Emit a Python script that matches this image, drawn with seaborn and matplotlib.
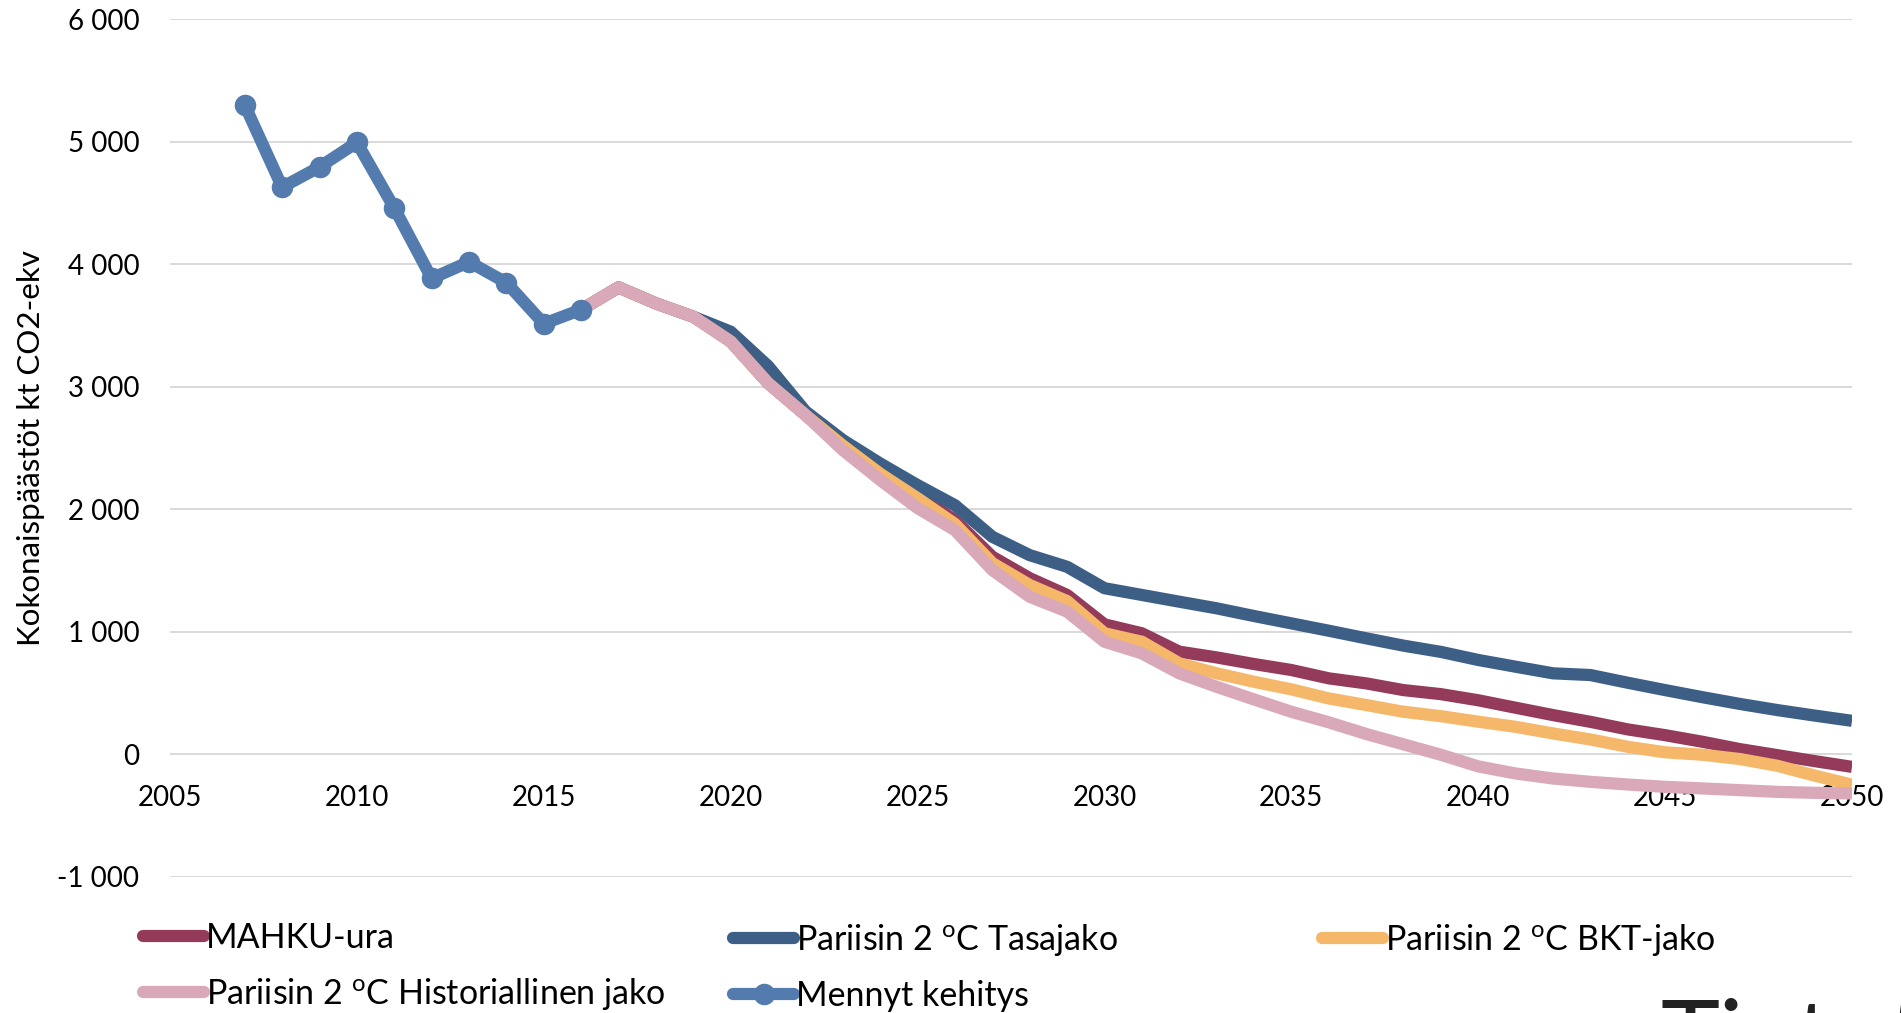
import matplotlib
matplotlib.use("Agg")
import matplotlib.pyplot as plt
from matplotlib.lines import Line2D
from matplotlib.ticker import FuncFormatter, MultipleLocator
import seaborn as sns
import pandas as pd

# ---- data (kt CO2-ekv) ----
years_hist = list(range(2007, 2017))
mennyt_kehitys = [5300, 4630, 4795, 4995, 4460, 3885, 4020, 3850, 3515, 3630]

years_scen = list(range(2016, 2051))
mahku_ura = [3630, 3812, 3681, 3572, 3370, 3030, 2770, 2520, 2300, 2115,
             1910, 1612, 1437, 1300, 1060, 987, 837, 790, 736, 687,
             619, 578, 523, 490, 440, 379, 319, 264, 202, 155,
             101, 41, -8, -57, -104]
tasajako = [3630, 3812, 3681, 3572, 3450, 3170, 2800, 2565, 2374, 2197,
            2033, 1775, 1625, 1530, 1355, 1300, 1245, 1191, 1128, 1068,
            1008, 946, 886, 835, 769, 714, 660, 646, 583, 523,
            465, 410, 360, 315, 272]
bkt_jako = [3630, 3812, 3681, 3572, 3370, 3030, 2770, 2520, 2290, 2090,
            1880, 1560, 1381, 1250, 987, 918, 742, 660, 591, 529,
            455, 401, 346, 310, 265, 223, 169, 120, 60, 15,
            -5, -40, -95, -175, -250]
historiallinen = [3630, 3812, 3681, 3572, 3370, 3030, 2770, 2483, 2238, 2009,
                  1829, 1503, 1285, 1164, 918, 823, 660, 550, 447, 346,
                  260, 165, 80, -5, -100, -158, -199, -226, -248, -267,
                  -280, -294, -308, -316, -321]

sup = r"$^{\mathrm{o}}$"
labels = {
    "mahku": "MAHKU-ura",
    "tasa": f"Pariisin 2 {sup}C Tasajako",
    "bkt": f"Pariisin 2 {sup}C BKT-jako",
    "hist": f"Pariisin 2 {sup}C Historiallinen jako",
    "past": "Mennyt kehitys",
}
colors = {
    "mahku": "#943B5B",
    "tasa": "#3D5F86",
    "bkt": "#F5B76A",
    "hist": "#D9A8B9",
    "past": "#537BAD",
}

x_ticks = list(range(2005, 2051, 5))

# ---- style ----
sns.set_theme(style="white")
plt.rcParams["font.family"] = ["Lato", "DejaVu Sans"]
plt.rcParams["mathtext.fontset"] = "custom"
plt.rcParams["mathtext.rm"] = "Lato"
plt.rcParams["mathtext.it"] = "Lato:italic"

W, H = 1901, 1013
fig = plt.figure(figsize=(W / 100, H / 100), dpi=100)
ax = fig.add_axes([170 / W, 1 - 876.6 / H, (1852 - 170) / W, (876.6 - 19.4) / H])

LW = 8.8
scen = pd.DataFrame({"year": years_scen, "mahku": mahku_ura, "tasa": tasajako,
                     "bkt": bkt_jako, "hist": historiallinen})
past = pd.DataFrame({"year": years_hist, "value": mennyt_kehitys})

line_kw = dict(linewidth=LW, solid_joinstyle="round", solid_capstyle="butt")
for key in ["mahku", "tasa", "bkt", "hist"]:
    sns.lineplot(data=scen, x="year", y=key, ax=ax, color=colors[key],
                 label=labels[key], legend=False, zorder=3, **line_kw)
sns.lineplot(data=past, x="year", y="value", ax=ax, color=colors["past"],
             marker="o", markersize=15.5, markeredgewidth=0,
             label=labels["past"], legend=False, zorder=4, **line_kw)

# ---- axes ----
ax.set_xlim(2005, 2050)
ax.set_ylim(-1000, 6000)
ax.set_xticks(x_ticks)
ax.yaxis.set_major_locator(MultipleLocator(1000))
ax.yaxis.set_major_formatter(FuncFormatter(lambda v, p: f"{v:,.0f}".replace(",", " ")))
ax.grid(axis="y", color="#D9D9D9", linewidth=1.4, zorder=0)
ax.grid(axis="x", visible=False)
for s in ["top", "right", "left"]:
    ax.spines[s].set_visible(False)
ax.spines["bottom"].set_position(("data", 0))
ax.spines["bottom"].set_visible(False)
ax.tick_params(axis="x", length=0, pad=22, labelsize=20, colors="black")
ax.tick_params(axis="y", length=0, pad=22, labelsize=20, colors="black")
ax.set_xlabel("")
ax.set_ylabel("Kokonaispäästöt kt CO2-ekv", fontsize=22.5, color="black")
ax.yaxis.set_label_coords(-0.0743, 0.5)

# ---- legend (three columns) ----
def handle(key, marker=None):
    return Line2D([0], [0], color=colors[key], linewidth=LW, solid_capstyle="round",
                  marker=marker, markersize=15.5, markeredgewidth=0)

leg_kw = dict(loc="upper left", frameon=False, fontsize=24.5, handlelength=1.8,
              handletextpad=0.05, borderpad=0, borderaxespad=0, labelspacing=0.64,
              numpoints=1, labelcolor="black")
columns = [
    (143, [("mahku", None), ("hist", None)]),
    (733, [("tasa", None), ("past", "o")]),
    (1322, [("bkt", None)]),
]
for x0, entries in columns:
    fig.legend(handles=[handle(k, m) for k, m in entries],
               labels=[labels[k] for k, _ in entries],
               bbox_to_anchor=(x0 / W, 1 - 922 / H), **leg_kw)

# caption running off the lower edge
fig.text(1661 / W, 1 - 1071 / H, "Tietot", fontsize=72, color="#222222",
         ha="left", va="baseline")

fig.savefig("out.png", dpi=100)
